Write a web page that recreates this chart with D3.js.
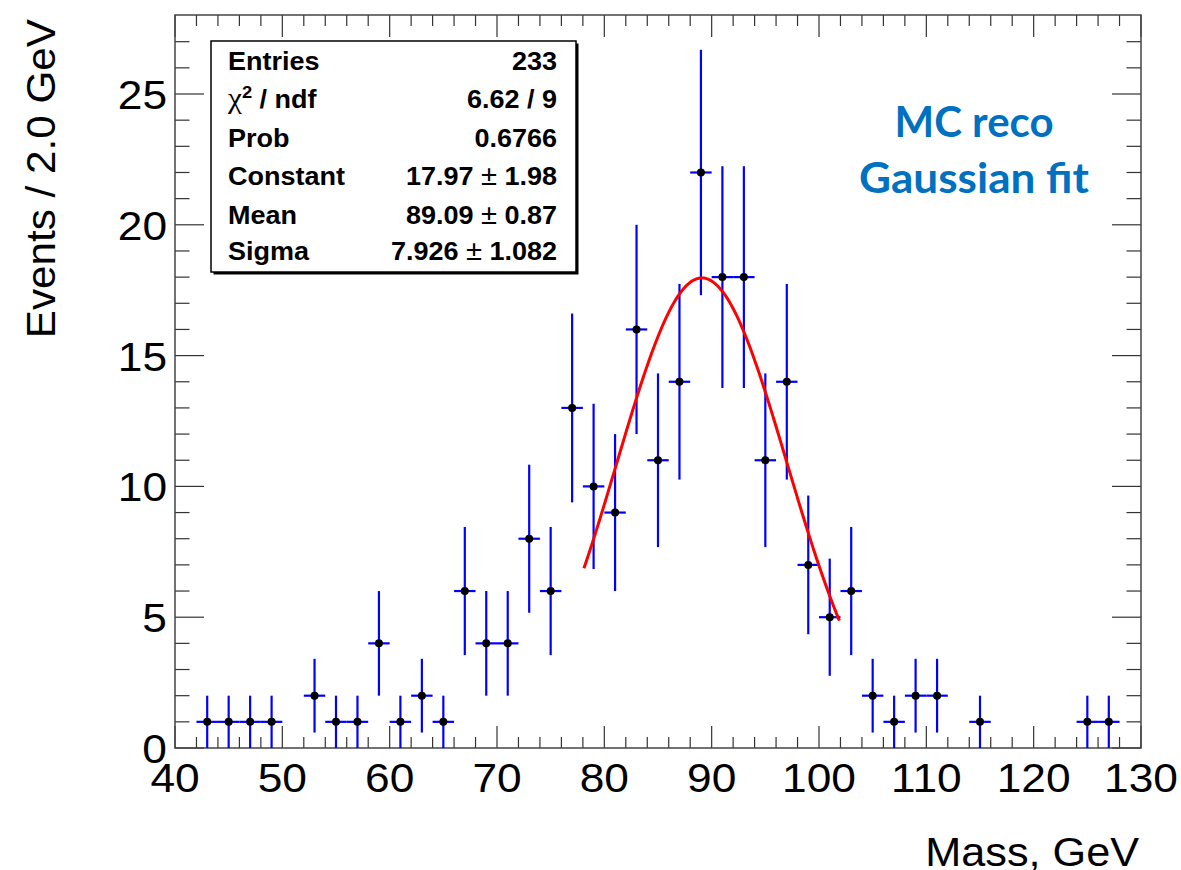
<!DOCTYPE html>
<html>
<head>
<meta charset="utf-8">
<script src="https://cdn.jsdelivr.net/npm/d3@7"></script>
<style>
  body { margin: 0; background: #fff; }
  svg { display: block; }
</style>
</head>
<body>
<div id="chart"></div>
<script>
// bin centres (GeV), counts and errors of the non-empty bins
const binCenters = [43, 45, 47, 49, 53, 55, 57, 59, 61, 63, 65, 67, 69, 71, 73, 75, 77, 79, 81, 83, 85, 87, 89, 91, 93, 95, 97, 99, 101, 103, 105, 107, 109, 111, 115, 125, 127];
const counts     = [1, 1, 1, 1, 2, 1, 1, 4, 1, 2, 1, 6, 4, 4, 8, 6, 13, 10, 9, 16, 11, 14, 22, 18, 18, 11, 14, 7, 5, 6, 2, 1, 2, 2, 1, 1, 1];
const errors     = [1, 1, 1, 1, 1.41, 1, 1, 2, 1, 1.41, 1, 2.45, 2, 2, 2.83, 2.45, 3.61, 3.16, 3, 4, 3.32, 3.74, 4.69, 4.24, 4.24, 3.32, 3.74, 2.65, 2.24, 2.45, 1.41, 1, 1.41, 1.41, 1, 1, 1];
const binWidth = 2;

// fit result shown in the stats box
const fitConstant = 17.97, fitMean = 89.09, fitSigma = 7.926;
const fitRange = [78.1, 101.9];

const statLabels = ["Entries", "chi2", "Prob", "Constant", "Mean", "Sigma"];
const statValues = ["233", "6.62 / 9", "0.6766", ["17.97", "1.98"], ["89.09", "0.87"], ["7.926", "1.082"]];

const xTicks = [40, 50, 60, 70, 80, 90, 100, 110, 120, 130];
const yTicks = [0, 5, 10, 15, 20, 25];

const width = 1181, height = 870;
const margin = {top: 15, right: 40, bottom: 122, left: 175};
const sx = 1.08; // text is a little wider than tall in the reference

const xScale = d3.scaleLinear().domain([40, 130]).range([margin.left, width - margin.right]);
const yScale = d3.scaleLinear().domain([0, 28.02]).range([height - margin.bottom, margin.top]);

const svg = d3.select("#chart").append("svg")
    .attr("width", width)
    .attr("height", height)
    .attr("viewBox", [0, 0, width, height]);

const x0 = xScale.range()[0], x1 = xScale.range()[1];
const y0 = yScale.range()[0], y1 = yScale.range()[1];

function putText(g, x, y, str, size, anchor, weight) {
    return g.append("text")
        .attr("transform", `translate(${x},${y}) scale(${sx},1)`)
        .attr("font-family", "'Liberation Sans', Arial, sans-serif")
        .attr("font-size", size)
        .attr("font-weight", weight || "normal")
        .attr("text-anchor", anchor)
        .attr("fill", "#000")
        .text(str);
}

// ticks on all four sides
const majorX = 22, majorY = 29;
const minorXTicks = d3.range(40, 130.01, 2).filter(v => v % 10 !== 0);
const minorYTicks = d3.range(0, 28, 1).filter(v => v % 5 !== 0);

const ticks = svg.append("g").attr("stroke", "#333").attr("stroke-width", 1.2);
[[xTicks, majorX], [minorXTicks, majorX / 2]].forEach(([vals, len]) => {
    ticks.selectAll(null).data(vals).join("line")
        .attr("x1", d => xScale(d)).attr("x2", d => xScale(d))
        .attr("y1", y0).attr("y2", y0 - len);
    ticks.selectAll(null).data(vals).join("line")
        .attr("x1", d => xScale(d)).attr("x2", d => xScale(d))
        .attr("y1", y1).attr("y2", y1 + len);
});
[[yTicks, majorY], [minorYTicks, majorY / 2]].forEach(([vals, len]) => {
    ticks.selectAll(null).data(vals).join("line")
        .attr("y1", d => yScale(d)).attr("y2", d => yScale(d))
        .attr("x1", x0).attr("x2", x0 + len);
    ticks.selectAll(null).data(vals).join("line")
        .attr("y1", d => yScale(d)).attr("y2", d => yScale(d))
        .attr("x1", x1).attr("x2", x1 - len);
});

// frame
svg.append("rect")
    .attr("x", x0).attr("y", y1)
    .attr("width", x1 - x0).attr("height", y0 - y1)
    .attr("fill", "none")
    .attr("stroke", "#444")
    .attr("stroke-width", 1.5);

// tick labels
const labels = svg.append("g");
xTicks.forEach(v => putText(labels, xScale(v), 792, v, 41, "middle"));
yTicks.forEach(v => putText(labels, 167, yScale(v) + 15, v, 41, "end"));

// axis titles
putText(svg, 1139, 866, "Mass, GeV", 40, "end");
svg.append("text")
    .attr("transform", "translate(55,19) rotate(-90) scale(1.03,1)")
    .attr("font-family", "'Liberation Sans', Arial, sans-serif")
    .attr("font-size", 41)
    .attr("text-anchor", "end")
    .text("Events / 2.0 GeV");

// data points with errors
const pts = binCenters.map((c, i) => ({x: c, y: counts[i], e: errors[i]}));
const data = svg.append("g");
data.append("g")
    .attr("stroke", "#0000ff")
    .attr("stroke-width", 2.2)
    .selectAll("g")
    .data(pts)
    .join("g")
    .call(g => g.append("line")
        .attr("x1", d => xScale(d.x - binWidth / 2))
        .attr("x2", d => xScale(d.x + binWidth / 2))
        .attr("y1", d => yScale(d.y))
        .attr("y2", d => yScale(d.y)))
    .call(g => g.append("line")
        .attr("x1", d => xScale(d.x))
        .attr("x2", d => xScale(d.x))
        .attr("y1", d => yScale(Math.max(0, d.y - d.e)))
        .attr("y2", d => yScale(d.y + d.e)));

// fit curve
const gaus = x => fitConstant * Math.exp(-0.5 * Math.pow((x - fitMean) / fitSigma, 2));
const fitX = d3.range(fitRange[0], fitRange[1] + 0.001, (fitRange[1] - fitRange[0]) / 100);
svg.append("path")
    .datum(fitX)
    .attr("fill", "none")
    .attr("stroke", "#ff0000")
    .attr("stroke-width", 3)
    .attr("d", d3.line().x(d => xScale(d)).y(d => yScale(gaus(d))));

data.append("g")
    .selectAll("circle")
    .data(pts)
    .join("circle")
    .attr("cx", d => xScale(d.x))
    .attr("cy", d => yScale(d.y))
    .attr("r", 4)
    .attr("fill", "#000");

// stats box
const box = {x: 211, y: 41, w: 365, h: 231};
svg.append("rect")
    .attr("x", box.x + 2.5).attr("y", box.y + 2.5)
    .attr("width", box.w).attr("height", box.h)
    .attr("fill", "#000");
svg.append("rect")
    .attr("x", box.x).attr("y", box.y)
    .attr("width", box.w).attr("height", box.h)
    .attr("fill", "#fff")
    .attr("stroke", "#000")
    .attr("stroke-width", 1.5);

const rowY = [70, 108, 147, 185, 224, 260];
const stats = svg.append("g");
statLabels.forEach((lab, i) => {
    if (lab === "chi2") {
        const t = putText(stats, 228, rowY[i], "", 25, "start", "bold");
        t.append("tspan").attr("font-family", "'Liberation Serif', serif").attr("font-weight", "normal").attr("font-size", 29).text("\u03c7");
        t.append("tspan").attr("font-size", 17).attr("dy", -10).text("2");
        t.append("tspan").attr("dy", 10).text(" / ndf");
    } else {
        putText(stats, 228, rowY[i], lab, 25, "start", "bold");
    }
    const v = statValues[i];
    if (Array.isArray(v)) {
        const t = putText(stats, 557, rowY[i], "", 25, "end", "bold");
        t.append("tspan").text(v[0] + " ");
        t.append("tspan").attr("font-weight", "normal").attr("font-size", 27).text("\u00b1");
        t.append("tspan").text(" " + v[1]);
    } else {
        putText(stats, 557, rowY[i], v, 25, "end", "bold");
    }
});

// annotation
const note = svg.append("g")
    .attr("font-family", "Lato, 'Open Sans', sans-serif")
    .attr("font-weight", "bold")
    .attr("font-size", 42)
    .attr("fill", "#0070c0")
    .attr("text-anchor", "middle");
note.append("text").attr("x", 974).attr("y", 137)
    .attr("textLength", 159).attr("lengthAdjust", "spacingAndGlyphs").text("MC reco");
note.append("text").attr("x", 974).attr("y", 193)
    .attr("textLength", 230).attr("lengthAdjust", "spacingAndGlyphs").text("Gaussian fit");
</script>
</body>
</html>
